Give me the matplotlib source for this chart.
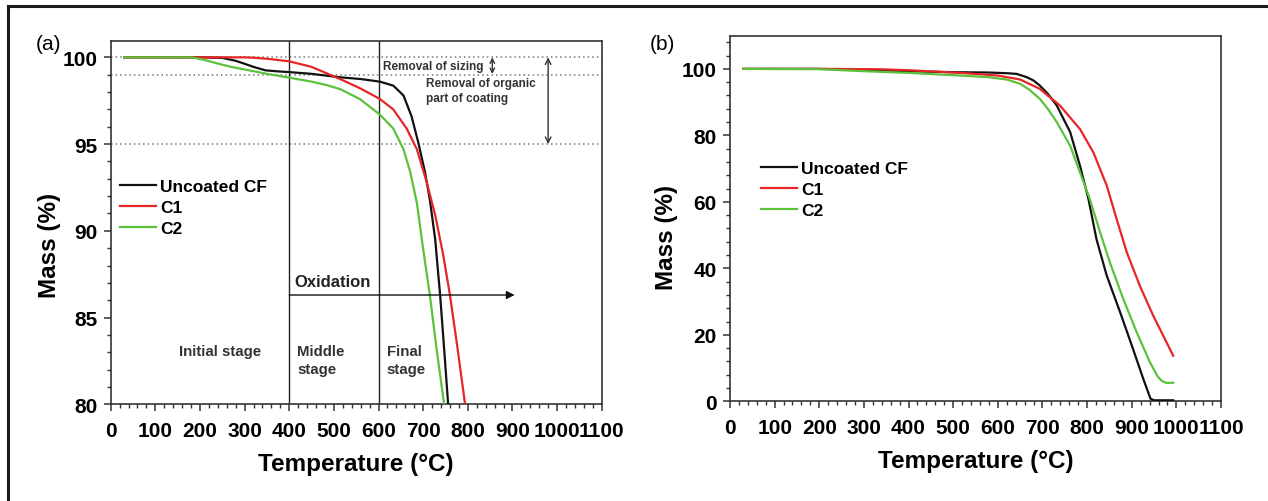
import matplotlib
matplotlib.use('Agg')
import matplotlib.pyplot as plt
from matplotlib.ticker import MultipleLocator
from matplotlib.lines import Line2D

plt.rcParams['font.family'] = ['Liberation Sans', 'DejaVu Sans']
plt.rcParams['font.weight'] = 'bold'

# ---------------- data: panel (a) ----------------
a_unc_T = [30, 100, 200, 250, 280, 300, 320, 347, 370, 400, 450, 514, 560, 603, 633, 656, 674, 689, 704, 715, 727, 738, 747, 756]
a_unc_M = [100, 100, 100, 99.97, 99.8, 99.63, 99.45, 99.25, 99.2, 99.15, 99.05, 98.85, 98.75, 98.6, 98.37, 97.8, 96.6, 95.1, 93.4, 91.8, 89.5, 86.3, 83.2, 80.0]

a_c1_T = [30, 100, 200, 300, 320, 350, 400, 450, 514, 560, 603, 633, 663, 686, 708, 727, 745, 760, 775, 794]
a_c1_M = [100, 100, 100, 100, 99.98, 99.92, 99.77, 99.45, 98.75, 98.2, 97.6, 97.0, 95.9, 94.7, 92.8, 90.9, 88.6, 86.3, 83.6, 80.0]

a_c2_T = [30, 100, 182, 210, 236, 270, 300, 350, 400, 450, 484, 514, 558, 603, 633, 656, 671, 686, 700, 715, 730, 747]
a_c2_M = [100, 100, 100, 99.85, 99.67, 99.45, 99.3, 99.05, 98.83, 98.6, 98.4, 98.17, 97.6, 96.7, 95.9, 94.7, 93.4, 91.6, 88.95, 86.3, 83.2, 80.0]

# ---------------- data: panel (b) ----------------
b_unc_T = [30, 200, 300, 400, 500, 580, 620, 642, 665, 680, 694, 712, 732, 762, 784, 803, 821, 844, 874, 903, 926, 942, 950, 993]
b_unc_M = [100, 100, 99.7, 99.3, 99.0, 98.9, 98.7, 98.5, 97.5, 96.5, 95.0, 92.5, 89.0, 81.0, 70.9, 60.9, 48.8, 37.8, 26.8, 15.7, 6.7, 0.8, 0.3, 0.3]

b_c1_T = [30, 200, 330, 400, 515, 600, 650, 694, 739, 784, 814, 844, 866, 889, 918, 948, 993]
b_c1_M = [100, 100, 99.9, 99.6, 98.8, 98.0, 96.8, 94.0, 89.0, 81.9, 74.9, 64.9, 54.9, 44.8, 34.8, 25.8, 13.7]

b_c2_T = [30, 200, 300, 400, 515, 580, 620, 650, 670, 694, 712, 732, 762, 784, 806, 829, 851, 881, 911, 941, 958, 967, 978, 993]
b_c2_M = [100, 99.9, 99.3, 98.8, 98.0, 97.5, 96.8, 95.5, 93.8, 91.0, 88.0, 84.0, 76.9, 68.9, 60.9, 50.9, 41.8, 30.8, 20.8, 11.7, 7.5, 6.2, 5.5, 5.6]

labels = ['Uncoated CF', 'C1', 'C2']
colors = ['#111111', '#e62626', '#5cc23c']

x_ticks = list(range(0, 1101, 100))
a_y_ticks = [80, 85, 90, 95, 100]
b_y_ticks = [0, 20, 40, 60, 80, 100]

fig = plt.figure(figsize=(12.68, 5.02), dpi=100)

# figure frame (top and left)
fig.add_artist(Line2D([8.3/1268, 1.0], [1-7.3/502, 1-7.3/502], color='#1a1a1a', lw=2.2))
fig.add_artist(Line2D([8.3/1268, 8.3/1268], [0.0, 1-7.3/502], color='#1a1a1a', lw=2.2))

axa = fig.add_axes([110.7/1268, 1-405.3/502, 491/1268, 363.6/502])
axb = fig.add_axes([730/1268, 1-402.3/502, 491/1268, 365/502])


def style(ax):
    for s in ax.spines.values():
        s.set_color('#333333')
        s.set_linewidth(1.2)
    ax.tick_params(axis='both', which='major', direction='out', length=5, width=1.1,
                   labelsize=15, color='#333333', top=False, right=False)
    ax.tick_params(axis='both', which='minor', direction='out', length=3, width=1.0,
                   color='#333333', top=False, right=False)
    ax.tick_params(axis='x', which='major', pad=7)
    ax.tick_params(axis='y', which='major', pad=4.5)
    ax.set_xlim(0, 1100)
    ax.set_xticks(x_ticks)
    ax.xaxis.set_minor_locator(MultipleLocator(20))
    ax.set_xlabel('Temperature (°C)', fontsize=17.5, fontweight='bold')
    ax.set_ylabel('Mass (%)', fontsize=17.5, fontweight='bold')


# ---------------- panel (a) ----------------
style(axa)
axa.set_ylim(80, 100.96)
axa.set_yticks(a_y_ticks)
axa.yaxis.set_minor_locator(MultipleLocator(1))
axa.xaxis.set_label_coords(0.5, -0.13)
axa.yaxis.set_label_coords(-0.101, 0.441)

for yv in [100, 99, 95]:
    axa.axhline(yv, color='#777777', lw=1.1, ls=(0, (1, 2)), zorder=1)
for xv in [400, 600]:
    axa.axvline(xv, color='#222222', lw=1.0, zorder=1)

for T, M, c, lab in zip([a_unc_T, a_c1_T, a_c2_T], [a_unc_M, a_c1_M, a_c2_M], colors, labels):
    axa.plot(T, M, color=c, lw=1.6, label=lab, zorder=3)

axa.legend(loc='center left', bbox_to_anchor=(-0.01, 0.5415), frameon=False, fontsize=12.5,
           handlelength=2.1, handletextpad=0.25, labelspacing=0.32, borderaxespad=0.4)

axa.text(611, 99.52, 'Removal of sizing', fontsize=8.5, fontweight='bold', color='#333333',
         ha='left', va='center')
axa.annotate('', xy=(855, 100), xytext=(855, 99.04),
             arrowprops=dict(arrowstyle='<->', color='#333333', lw=1.0, shrinkA=0, shrinkB=0,
                             mutation_scale=8))
axa.text(706, 98.1, 'Removal of organic\npart of coating', fontsize=8.5, fontweight='bold',
         color='#333333', ha='left', va='center', linespacing=1.4)
axa.annotate('', xy=(980, 100), xytext=(980, 95),
             arrowprops=dict(arrowstyle='<->', color='#333333', lw=1.0, shrinkA=0, shrinkB=0,
                             mutation_scale=10))
axa.annotate('', xy=(905, 86.3), xytext=(400, 86.3),
             arrowprops=dict(arrowstyle='-|>', color='#111111', lw=1.0, shrinkA=0, shrinkB=0,
                             mutation_scale=12))
axa.text(412, 87.1, 'Oxidation', fontsize=12, fontweight='bold', color='#222222',
         ha='left', va='center')
axa.text(154, 83.1, 'Initial stage', fontsize=10.8, fontweight='bold', color='#333333',
         ha='left', va='center')
axa.text(418, 82.55, 'Middle\nstage', fontsize=10.8, fontweight='bold', color='#333333',
         ha='left', va='center', linespacing=1.3)
axa.text(618, 82.55, 'Final\nstage', fontsize=10.8, fontweight='bold', color='#333333',
         ha='left', va='center', linespacing=1.3)

fig.text(36/1268, 1-45/502, '(a)', fontsize=15, fontweight='normal', ha='left', va='center')

# ---------------- panel (b) ----------------
style(axb)
axb.set_ylim(0, 109.8)
axb.set_yticks(b_y_ticks)
axb.yaxis.set_minor_locator(MultipleLocator(4))
axb.xaxis.set_label_coords(0.5, -0.13)
axb.yaxis.set_label_coords(-0.106, 0.453)

for T, M, c, lab in zip([b_unc_T, b_c1_T, b_c2_T], [b_unc_M, b_c1_M, b_c2_M], colors, labels):
    axb.plot(T, M, color=c, lw=1.6, label=lab, zorder=3)

axb.legend(loc='center left', bbox_to_anchor=(0.034, 0.580), frameon=False, fontsize=12.5,
           handlelength=2.1, handletextpad=0.25, labelspacing=0.32, borderaxespad=0.4)

fig.text(650/1268, 1-44/502, '(b)', fontsize=15, fontweight='normal', ha='left', va='center')

fig.savefig('out.png', dpi=100, facecolor='white')
